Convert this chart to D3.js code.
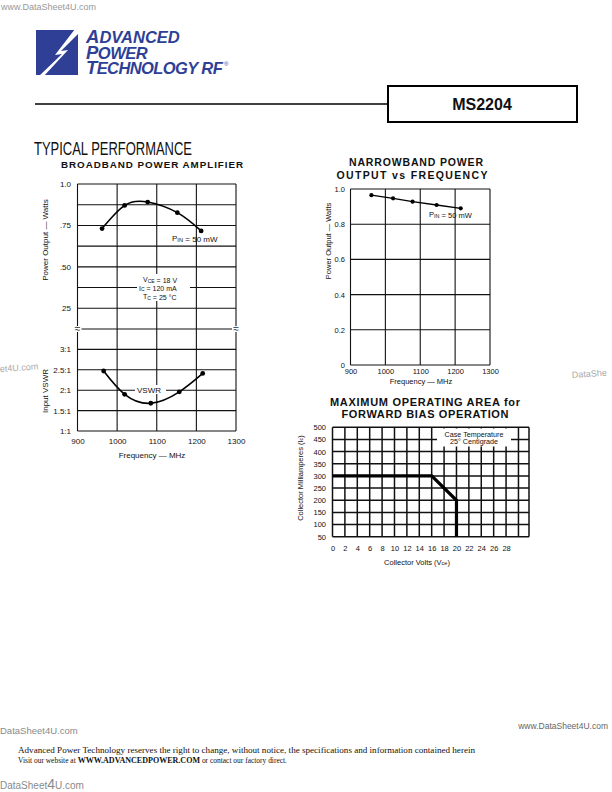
<!DOCTYPE html>
<html><head><meta charset="utf-8">
<script src="https://cdn.jsdelivr.net/npm/d3@7"></script>
<style>
html,body{margin:0;padding:0;background:#fff;}
svg{display:block;}
text{font-family:"Liberation Sans",Arial,Helvetica,sans-serif;fill:#111;}
</style></head>
<body>
<script>
// ---------- DATA ----------
const bbFreq   = [962, 1019, 1077, 1152, 1212];
const bbPower  = [0.731, 0.871, 0.891, 0.827, 0.717];
const vswrFreq = [966, 1019, 1085, 1157, 1216];
const vswrVals = [2.47, 1.90, 1.68, 1.96, 2.41];
const nbFreq   = [960, 1022, 1078, 1147, 1216];
const nbPower  = [0.965, 0.947, 0.928, 0.909, 0.89];
const soaVolts = [0, 16, 20, 20];
const soaMilliamps = [300, 300, 200, 50];

const freqTicks = [900, 1000, 1100, 1200, 1300];
const bbPowerTicks = [1.0, 0.75, 0.5, 0.25];
const bbPowerLabels = ["1.0", ".75", ".50", "25"];
const bbPowerGrid = [1.0, 0.875, 0.75, 0.625, 0.5, 0.375, 0.25];
const vswrTicks = [3, 2.5, 2, 1.5, 1];
const vswrLabels = ["3:1", "2.5:1", "2:1", "1.5:1", "1:1"];
const nbPowerTicks = [0, 0.2, 0.4, 0.6, 0.8, 1.0];
const nbPowerLabels = ["0", "0.2", "0.4", "0.6", "0.8", "1.0"];
const soaVoltTicks = [0,2,4,6,8,10,12,14,16,18,20,22,24,26,28];
const soaVoltGrid = [0,2,4,6,8,10,12,14,16,18,20,22,24,26,28,30];
const soaMaTicks = [500,450,400,350,300,250,200,150,100,50];

const svg = d3.select("body").append("svg").attr("width",612).attr("height",792);
svg.append("rect").attr("width",612).attr("height",792).attr("fill","#fff");

const GRAY = "#8a8a8a";
// ---------- watermarks ----------
svg.append("text").attr("x",1).attr("y",10).attr("font-size",9).style("fill","#999").text("www.DataSheet4U.com");
svg.append("text").attr("x",0).attr("y",372).attr("font-size",9).style("fill","#aaa").attr("transform","rotate(-4 0 372)").text("et4U.com");
svg.append("text").attr("x",572).attr("y",378).attr("font-size",9).style("fill","#aaa").attr("transform","rotate(-4 572 378)").text("DataShe");
svg.append("text").attr("x",0).attr("y",734).attr("font-size",9.5).style("fill",GRAY).text("DataSheet4U.com");
svg.append("text").attr("x",608).attr("y",729).attr("text-anchor","end").attr("font-size",8.5).style("fill","#666").text("www.DataSheet4U.com");
const wm = svg.append("text").attr("x",0).attr("y",789).attr("font-size",10).style("fill",GRAY);
wm.append("tspan").text("DataSheet");
wm.append("tspan").attr("font-size",14).text("4");
wm.append("tspan").text("U.com");

// ---------- logo ----------
const BLUE = "#2f3f95";
svg.append("rect").attr("x",36).attr("y",30).attr("width",42).attr("height",45).attr("fill",BLUE);
svg.append("path").attr("d","M79,29 L75,29 L55,55 L62,54 L38,77 L43,77 L68,50 L61,51 L79,33 Z").attr("fill","#fff");
function logoLine(y, first, rest, ls){
  const t = svg.append("text").attr("x",86).attr("y",y).attr("font-weight","bold").attr("font-style","italic")
    .style("fill",BLUE).attr("letter-spacing",ls);
  t.append("tspan").attr("font-size",18.5).text(first);
  t.append("tspan").attr("font-size",16.5).text(rest);
  return t;
}
logoLine(43,"A","DVANCED",0);
logoLine(58.5,"P","OWER",-0.5);
logoLine(74,"T","ECHNOLOGY RF",-0.6);
svg.append("text").attr("x",224).attr("y",66).attr("font-size",6).style("fill",BLUE).text("®");

// ---------- header line & box ----------
svg.append("line").attr("x1",35).attr("x2",388).attr("y1",104).attr("y2",104).attr("stroke","#000").attr("stroke-width",1.6);
svg.append("rect").attr("x",388).attr("y",86).attr("width",189).attr("height",36).attr("fill","none").attr("stroke","#000").attr("stroke-width",2);
svg.append("text").attr("x",482).attr("y",109.5).attr("text-anchor","middle").attr("font-size",16).attr("font-weight","bold").text("MS2204");

// ---------- titles ----------
svg.append("text").attr("x",34).attr("y",155).attr("font-size",19).attr("textLength",158).attr("lengthAdjust","spacingAndGlyphs")
  .style("font-family","'Liberation Sans Narrow','Liberation Sans',Arial,sans-serif").text("TYPICAL PERFORMANCE");
svg.append("text").attr("x",61).attr("y",168.3).attr("font-size",9.8).attr("font-weight","bold").attr("textLength",182).attr("lengthAdjust","spacing").text("BROADBAND POWER AMPLIFIER");

// ---------- helpers ----------
function gridLines(g, scale, vals, orient, x1, x2, sw){
  vals.forEach(v=>{
    if(orient==="h") g.append("line").attr("x1",x1).attr("x2",x2).attr("y1",scale(v)).attr("y2",scale(v));
    else g.append("line").attr("y1",x1).attr("y2",x2).attr("x1",scale(v)).attr("x2",scale(v));
  });
  g.attr("stroke","#111").attr("stroke-width",sw).attr("fill","none");
}
function tickAxis(gen, vals, labels, fs){
  return g=>{
    g.call(gen.tickValues(vals).tickSize(0).tickPadding(0).tickFormat((d,i)=>labels? labels[i] : d));
    g.select(".domain").remove();
    g.selectAll("text").attr("font-size",fs).style("font-family","'Liberation Sans',Arial,sans-serif").style("fill","#111");
  };
}
function sub(t, main, s, dy){ dy = dy||1.3; t.append("tspan").text(main); t.append("tspan").attr("font-size","72%").attr("dy",dy).text(s); t.append("tspan").attr("dy",-dy).text(""); return t;}

// ---------- LEFT CHART ----------
const xL = d3.scaleLinear().domain([900,1300]).range([77.5,236]);
const yTop = d3.scaleLinear().domain([0.125,1.0]).range([329,184]);
const yBot = d3.scaleLinear().domain([1,3.5]).range([431,329]);
const L = svg.append("g");
gridLines(L.append("g"), yTop, bbPowerGrid, "h", xL(900), xL(1300), 1.1);
gridLines(L.append("g"), yBot, [3.5,3,2.5,2,1.5,1], "h", xL(900), xL(1300), 1.1);
gridLines(L.append("g"), xL, freqTicks, "v", yTop(1.0), yBot(1), 1.1);
// break marks
[900,1300].forEach(f=>{
  L.append("rect").attr("x",xL(f)-4).attr("y",yBot(3.5)-3).attr("width",8).attr("height",6).attr("fill","#fff");
  L.append("text").attr("x",xL(f)).attr("y",yBot(3.5)+3).attr("text-anchor","middle").attr("font-size",10).text("≈");
});
// annotation boxes
L.append("rect").attr("x",137).attr("y",274).attr("width",53).attr("height",27).attr("fill","#fff");
L.append("rect").attr("x",135).attr("y",385).attr("width",31).attr("height",9).attr("fill","#fff");
// curves
const bbData = bbFreq.map((f,i)=>[f,bbPower[i]]);
L.append("path").datum(bbData).attr("fill","none").attr("stroke","#000").attr("stroke-width",1.6)
  .attr("d", d3.line().x(d=>xL(d[0])).y(d=>yTop(d[1])).curve(d3.curveNatural));
L.selectAll(".bbd").data(bbData).join("circle").attr("cx",d=>xL(d[0])).attr("cy",d=>yTop(d[1])).attr("r",2.4).attr("fill","#000");
const vsData = vswrFreq.map((f,i)=>[f,vswrVals[i]]);
L.append("path").datum(vsData).attr("fill","none").attr("stroke","#000").attr("stroke-width",1.6)
  .attr("d", d3.line().x(d=>xL(d[0])).y(d=>yBot(d[1])).curve(d3.curveNatural));
L.selectAll(".vsd").data(vsData).join("circle").attr("cx",d=>xL(d[0])).attr("cy",d=>yBot(d[1])).attr("r",2.4).attr("fill","#000");
// tick labels
L.append("g").attr("transform","translate(71,0)").call(tickAxis(d3.axisLeft(yTop), bbPowerTicks, bbPowerLabels, 8));
L.append("g").attr("transform","translate(71,0)").call(tickAxis(d3.axisLeft(yBot), vswrTicks, vswrLabels, 8));
L.append("g").attr("transform","translate(0,438)").call(tickAxis(d3.axisBottom(xL), freqTicks, null, 8));
// titles
L.append("text").attr("transform","translate(48,240) rotate(-90)").attr("text-anchor","middle").attr("font-size",8).text("Power Output  —  Watts");
L.append("text").attr("transform","translate(48,391) rotate(-90)").attr("text-anchor","middle").attr("font-size",8).text("Input VSWR");
L.append("text").attr("x",152).attr("y",458).attr("text-anchor","middle").attr("font-size",8).text("Frequency  —  MHz");
// annotations
sub(L.append("text").attr("x",172).attr("y",241).attr("font-size",8),"P","IN").append("tspan").text(" =  50 mW");
sub(L.append("text").attr("x",143).attr("y",282).attr("font-size",7),"V","CE",0.8).append("tspan").text("  =  18 V");
sub(L.append("text").attr("x",139).attr("y",290.5).attr("font-size",7),"I","C",0.8).append("tspan").text("  =  120 mA");
sub(L.append("text").attr("x",143).attr("y",299).attr("font-size",7),"T","C",0.8).append("tspan").text("  =  25 °C");
L.append("text").attr("x",137).attr("y",393).attr("font-size",8).text("VSWR");

// ---------- RIGHT TOP CHART ----------
svg.append("text").attr("x",416).attr("y",166).attr("text-anchor","middle").attr("font-size",10.5).attr("font-weight","bold").attr("textLength",134).attr("lengthAdjust","spacing").text("NARROWBAND POWER");
svg.append("text").attr("x",412).attr("y",178.5).attr("text-anchor","middle").attr("font-size",10.5).attr("font-weight","bold").attr("textLength",151).attr("lengthAdjust","spacing").text("OUTPUT vs FREQUENCY");
const xR = d3.scaleLinear().domain([900,1300]).range([350.5,490]);
const yR = d3.scaleLinear().domain([0,1]).range([365,189]);
const R = svg.append("g");
gridLines(R.append("g"), yR, nbPowerTicks, "h", xR(900), xR(1300), 1.1);
gridLines(R.append("g"), xR, freqTicks, "v", yR(1), yR(0), 1.1);
const nbData = nbFreq.map((f,i)=>[f,nbPower[i]]);
R.append("path").datum(nbData).attr("fill","none").attr("stroke","#000").attr("stroke-width",1.4)
  .attr("d", d3.line().x(d=>xR(d[0])).y(d=>yR(d[1])));
R.selectAll(".nbd").data(nbData).join("circle").attr("cx",d=>xR(d[0])).attr("cy",d=>yR(d[1])).attr("r",2.1).attr("fill","#000");
R.append("g").attr("transform","translate(345,0)").call(tickAxis(d3.axisLeft(yR), nbPowerTicks, nbPowerLabels, 7.5));
R.append("g").attr("transform","translate(0,369)").call(tickAxis(d3.axisBottom(xR), freqTicks, null, 7.5));
R.append("text").attr("transform","translate(331,241) rotate(-90)").attr("text-anchor","middle").attr("font-size",7.5).text("Power Output  —  Watts");
R.append("text").attr("x",421).attr("y",384).attr("text-anchor","middle").attr("font-size",7.5).text("Frequency  —  MHz");
sub(R.append("text").attr("x",429).attr("y",217).attr("font-size",7.5),"P","IN").append("tspan").text(" =  50 mW");

// ---------- RIGHT BOTTOM CHART (SOA) ----------
svg.append("text").attr("x",425).attr("y",406).attr("text-anchor","middle").attr("font-size",11).attr("font-weight","bold").attr("textLength",190).attr("lengthAdjust","spacing").text("MAXIMUM OPERATING AREA for");
svg.append("text").attr("x",425).attr("y",418).attr("text-anchor","middle").attr("font-size",11).attr("font-weight","bold").attr("textLength",167).attr("lengthAdjust","spacing").text("FORWARD BIAS OPERATION");
const xS = d3.scaleLinear().domain([0,31.7]).range([332.5,529]);
const yS = d3.scaleLinear().domain([50,500]).range([536.7,427.3]);
const S = svg.append("g");
gridLines(S.append("g"), yS, soaMaTicks, "h", xS(0), xS(31.7), 1.5);
gridLines(S.append("g"), xS, soaVoltGrid.concat([31.7]), "v", yS(500), yS(50), 1.5);
S.append("rect").attr("x",437).attr("y",428.5).attr("width",74).attr("height",18).attr("fill","#fff");
S.append("text").attr("x",474).attr("y",436.5).attr("text-anchor","middle").attr("font-size",7.2).text("Case Temperature");
S.append("text").attr("x",474).attr("y",444).attr("text-anchor","middle").attr("font-size",7.2).text("25° Centigrade");
const soaData = soaVolts.map((v,i)=>[v,soaMilliamps[i]]);
S.append("path").datum(soaData).attr("fill","none").attr("stroke","#000").attr("stroke-width",3.2)
  .attr("d", d3.line().x(d=>xS(d[0])).y(d=>yS(d[1])));
S.append("g").attr("transform","translate(326,0)").call(tickAxis(d3.axisLeft(yS), soaMaTicks, null, 7.5));
S.append("g").attr("transform","translate(0,546)").call(tickAxis(d3.axisBottom(xS), soaVoltTicks, null, 7.5));
const ylab = S.append("text").attr("transform","translate(303,478) rotate(-90)").attr("text-anchor","middle").attr("font-size",7.5);
ylab.append("tspan").text("Collector Milliamperes (I");
ylab.append("tspan").attr("font-size",5.5).text("c");
ylab.append("tspan").text(")");
const xlab = S.append("text").attr("x",417).attr("y",565).attr("text-anchor","middle").attr("font-size",7.5);
xlab.append("tspan").text("Collector Volts (V");
xlab.append("tspan").attr("font-size",5.5).text("ce");
xlab.append("tspan").text(")");

// ---------- footer ----------
svg.append("text").attr("x",18).attr("y",752.5).attr("font-size",8.3).attr("textLength",457).attr("lengthAdjust","spacingAndGlyphs")
  .style("font-family","'Liberation Serif','Times New Roman',serif")
  .text("Advanced Power Technology reserves the right to change, without notice, the specifications and information contained herein");
const f2 = svg.append("text").attr("x",18).attr("y",762.5).attr("font-size",7.6).attr("textLength",269).attr("lengthAdjust","spacingAndGlyphs")
  .style("font-family","'Liberation Serif','Times New Roman',serif");
f2.append("tspan").text("Visit our website at ");
f2.append("tspan").attr("font-weight","bold").attr("font-size",8.2).text("WWW.ADVANCEDPOWER.COM");
f2.append("tspan").text(" or contact our factory direct.");
</script>
</body></html>
